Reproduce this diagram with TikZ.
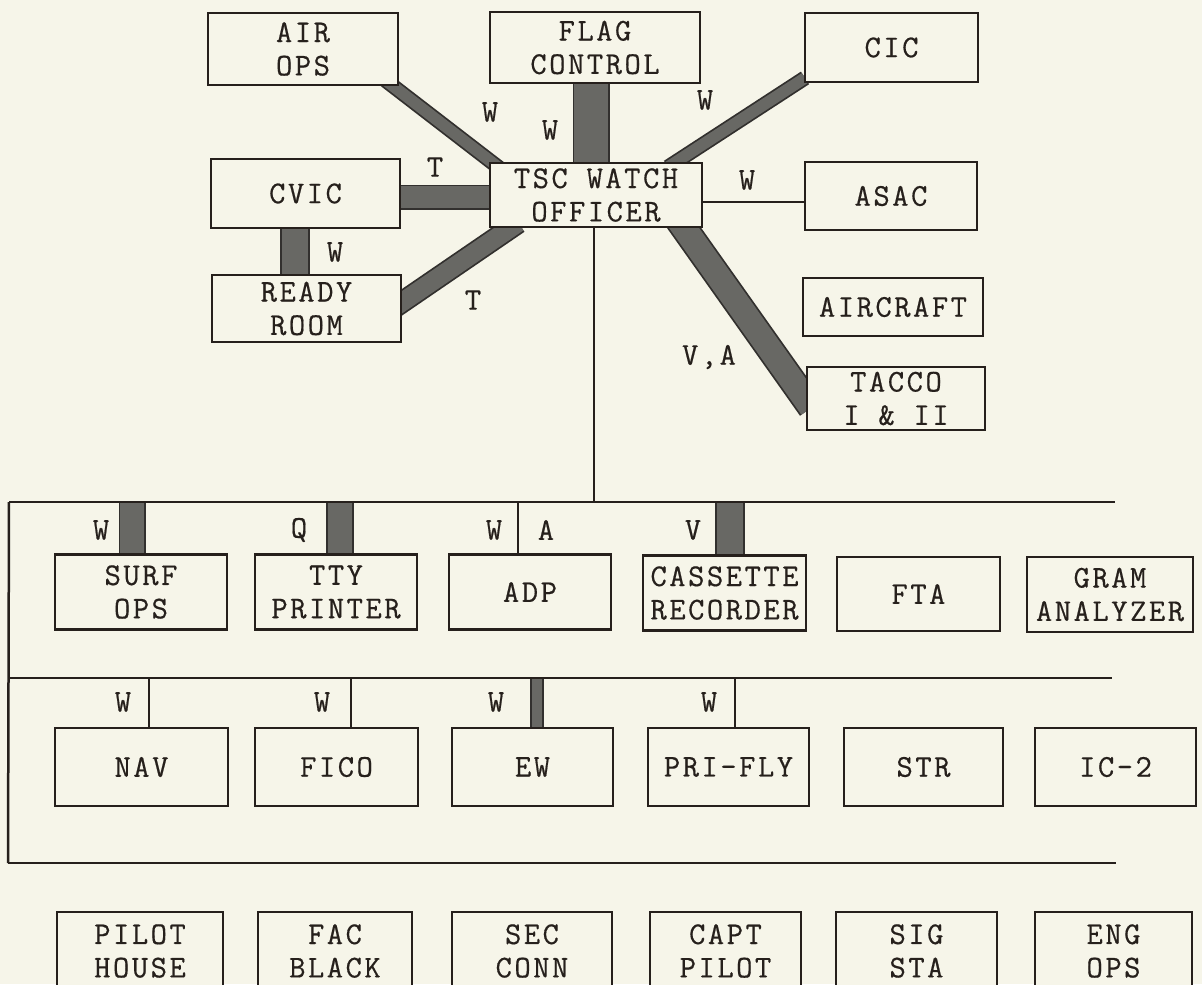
\documentclass[tikz,border=0pt]{standalone}
\usepackage{fontspec}
\newfontfamily\tw{Latin Modern Mono}[LetterSpace=8, FakeBold=0.5]
\usetikzlibrary{calc, backgrounds}
\definecolor{paper}{RGB}{246,245,233}
\definecolor{ink}{RGB}{38,32,28}
\definecolor{bandfill}{RGB}{104,104,100}
\definecolor{bandedge}{RGB}{50,48,46}
\newcommand{\px}{0.02cm}
\tikzset{
  box/.style={draw=ink, line width=0.055cm, fill=paper, inner sep=0pt, align=center, text=ink, font=\tw\fontsize{18}{19}\selectfont},
  sz/.style 2 args={minimum width=#1*0.02cm, minimum height=#2*0.02cm},
  lbl/.style={inner sep=0pt, text=ink, font=\tw\fontsize{18}{19}\selectfont},
  wire/.style={draw=ink, line width=0.04cm},
  busline/.style={draw=ink, line width=0.05cm},
  band/.style={draw=bandedge, line width=0.035cm, double=bandfill, double distance=#1*0.02cm-0.07cm},
  ext/.style={shorten <=-0.2cm, shorten >=-0.2cm},
}

\begin{document}
\begin{tikzpicture}[x=0.02cm, y=-0.02cm]
    \useasboundingbox (0,0) rectangle (1202,984);

    % upper group
    \node[box, sz={190}{72}] (airops) at (303,49) {AIR\\OPS};
    \node[box, sz={210}{71}] (flag) at (595,47.5) {FLAG\\CONTROL};
    \node[box, sz={173}{69}] (cic) at (891.5,47.5) {CIC};
    \node[box, sz={189}{69}] (cvic) at (305.5,193.5) {CVIC};
    \node[box, sz={212}{64}] (tsc) at (596,195) {TSC WATCH\\OFFICER};
    \node[box, sz={172}{68}] (asac) at (891,196) {ASAC};
    \node[box, sz={189}{67}] (ready) at (306.5,308.5) {READY\\ROOM};
    \node[box, sz={180}{58}] (aircraft) at (893,307) {AIRCRAFT};
    \node[box, sz={178}{63}] (tacco) at (896,398.5) {TACCO\\I \& II};

    % first row
    \node[box, sz={172}{75}] (surf) at (141,592) {SURF\\OPS};
    \node[box, sz={162}{75}] (tty) at (336,592) {TTY\\PRINTER};
    \node[box, sz={162}{75}] (adp) at (530,592) {ADP};
    \node[box, sz={163}{75}] (cass) at (724.5,593) {CASSETTE\\RECORDER};
    \node[box, sz={163}{74}] (fta) at (918.5,594) {FTA};
    \node[box, sz={166}{75}] (gram) at (1110,594.5) {GRAM\\ANALYZER};

    % second row
    \node[box, sz={173}{78}] (nav) at (141.5,767) {NAV};
    \node[box, sz={163}{78}] (fico) at (336.5,767) {FICO};
    \node[box, sz={161}{78}] (ew) at (532.5,767) {EW};
    \node[box, sz={161}{78}] (prifly) at (728.5,767) {PRI-FLY};
    \node[box, sz={159}{78}] (str) at (923.5,767) {STR};
    \node[box, sz={161}{78}] (ic2) at (1115.5,767) {IC-2};

    % third row
    \node[box, sz={166}{78}] (pilot) at (140,951) {PILOT\\HOUSE};
    \node[box, sz={154}{78}] (fac) at (335,951) {FAC\\BLACK};
    \node[box, sz={160}{78}] (sec) at (532,951) {SEC\\CONN};
    \node[box, sz={151}{78}] (capt) at (725.5,951) {CAPT\\PILOT};
    \node[box, sz={161}{78}] (sig) at (916.5,951) {SIG\\STA};
    \node[box, sz={157}{78}] (eng) at (1113.5,951) {ENG\\OPS};

    % buses
    \coordinate (bus1w) at (9,502);
    \coordinate (bus1e) at (1115,502);
    \coordinate (bus2w) at (9,678);
    \coordinate (bus2e) at (1112,678);
    \coordinate (bus3w) at (8,863);
    \coordinate (bus3e) at (1116,863);
    \draw[busline] (bus1w) -- (bus1e);
    \draw[busline] (bus2w) -- (bus2e);
    \draw[busline] (bus3w) -- (bus3e);
    \draw[busline] (bus1w) -- (bus3w);

    % thin links
    \draw[wire] ([xshift=-2*\px]tsc.south) -- ([xshift=-2*\px]tsc.south |- bus1w);
    \draw[wire] ([yshift=-7*\px]tsc.east) -- ([yshift=-7*\px]tsc.east -| asac.west);
    \draw[wire] ([xshift=-12*\px]adp.north) -- ([xshift=-12*\px]adp.north |- bus1w);
    \draw[wire] ([xshift=7.5*\px]nav.north) -- ([xshift=7.5*\px]nav.north |- bus2w);
    \draw[wire] ([xshift=14.5*\px]fico.north) -- ([xshift=14.5*\px]fico.north |- bus2w);
    \draw[wire] ([xshift=6.5*\px]prifly.north) -- ([xshift=6.5*\px]prifly.north |- bus2w);

    % labels
    \node[lbl] (wair) at (490,112) {W};
    \node[lbl] (wflag) at (550,130) {W};
    \node[lbl] (tcvic) at (435,167) {T};
    \node[lbl] (wcvic) at (335,252) {W};
    \node[lbl] (tready) at (473,300) {T};
    \node[lbl] (wcic) at (705,100) {W};
    \node[lbl] (wasac) at (747,180) {W};
    \node[lbl] (vatacco) at (709,357) {V,A};
    \node[lbl] (wsurf) at (101,530) {W};
    \node[lbl] (qtty) at (299,530) {Q};
    \node[lbl] (wadp) at (494,530) {W};
    \node[lbl] (aadp) at (546,530) {A};
    \node[lbl] (vcass) at (693,530) {V};
    \node[lbl] (wnav) at (123,702) {W};
    \node[lbl] (wfico) at (322,702) {W};
    \node[lbl] (wew) at (496,702) {W};
    \node[lbl] (wpri) at (709,702) {W};

    % wide links behind the boxes
    \begin{scope}[on background layer]
        \fill[paper] (0,0) rectangle (1202,984);
        \draw[band=15, ext] ([xshift=-6*\px]airops.south east) -- ([xshift=5*\px, yshift=-2*\px]tsc.north west);
        \draw[band=37] ([xshift=-4*\px]flag.center) -- ([xshift=-4*\px]flag.center |- tsc.center);
        \draw[band=15, ext] ([xshift=-27*\px]tsc.north east) -- ([xshift=-7*\px]cic.south west);
        \draw[band=25] ([yshift=-3.5*\px]cvic.center) -- ([yshift=-3.5*\px]cvic.center -| tsc.center);
        \draw[band=30] ([xshift=-10.5*\px]cvic.center) -- ([xshift=-10.5*\px]cvic.center |- ready.center);
        \draw[band=22, ext] ([yshift=6.5*\px]ready.east) -- ([xshift=-86*\px]tsc.south);
        \draw[band=28, ext] ([xshift=-19*\px]tsc.south east) -- ([yshift=-1*\px]tacco.west);
        \draw[band=27] ([xshift=-9*\px]surf.center) -- ([xshift=-9*\px]surf.center |- bus1w);
        \draw[band=28] ([xshift=4*\px]tty.center) -- ([xshift=4*\px]tty.center |- bus1w);
        \draw[band=30] ([xshift=5.5*\px]cass.center) -- ([xshift=5.5*\px]cass.center |- bus1w);
        \draw[band=14] ([xshift=4.5*\px]ew.center) -- ([xshift=4.5*\px]ew.center |- bus2w);
    \end{scope}
\end{tikzpicture}
\end{document}
